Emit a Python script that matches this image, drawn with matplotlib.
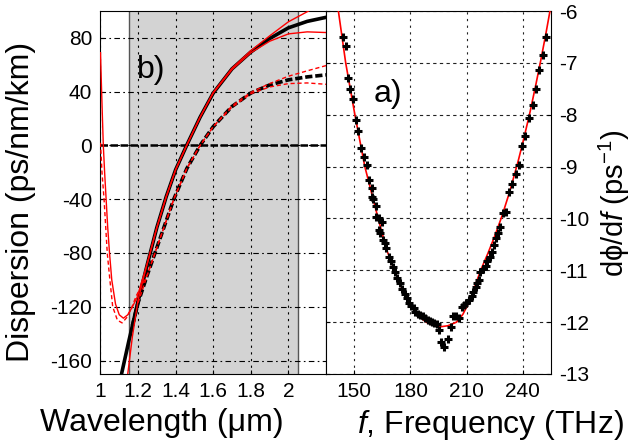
# dispersion (left) and group delay derivative (right) panels
import matplotlib
matplotlib.use("Agg")
import matplotlib.pyplot as plt

plt.rcParams['font.family'] = ['Liberation Sans', 'DejaVu Sans']
plt.rcParams['mathtext.fontset'] = 'custom'
plt.rcParams['mathtext.rm'] = 'Liberation Sans'
plt.rcParams['mathtext.it'] = 'Liberation Sans:italic'
plt.rcParams['axes.unicode_minus'] = False

# ---- panel b) dispersion vs wavelength ----
wl_black = [1.112, 1.15, 1.20, 1.25, 1.30, 1.35, 1.40, 1.46, 1.53, 1.60,
            1.70, 1.80, 1.90, 2.00, 2.10, 2.20]
d_black = [-170, -146, -116, -88, -61, -38, -18, 0.5, 21, 39,
           57, 69.5, 79.5, 87.5, 92.3, 95.3]

wl_black_dash = [1.17, 1.20, 1.25, 1.29, 1.34, 1.39, 1.46, 1.53, 1.60,
                 1.70, 1.80, 1.90, 2.00, 2.10, 2.20]
d_black_dash = [-134, -117, -96, -80, -60, -40, -17, 0, 14,
                29, 39, 45, 48.8, 51, 52.5]

wl_red1 = [1.145, 1.17, 1.20, 1.25, 1.30, 1.35, 1.40, 1.46, 1.53, 1.60,
           1.70, 1.80, 1.90, 2.00, 2.107, 2.15]
d_red1 = [-170, -142, -115, -87, -61, -38, -18, 0.5, 21, 39.5,
          57.5, 70.5, 81.5, 92, 100, 104]

wl_red2 = [1.0, 1.005, 1.01, 1.015, 1.022, 1.03, 1.038, 1.048, 1.06, 1.08,
           1.10, 1.122, 1.145, 1.17, 1.195, 1.22, 1.25, 1.30, 1.35, 1.40,
           1.46, 1.53, 1.60, 1.70, 1.80, 1.90, 2.00, 2.10, 2.20]
d_red2 = [69, 45, 22, 0, -20, -40, -60, -80, -100, -118,
          -126, -128.5, -126, -120, -113, -101, -87.5, -61, -38, -18,
          0.5, 21, 39, 56.5, 69, 77.5, 83, 84.5, 84]

wl_red_dash1 = [1.0, 1.008, 1.019, 1.036, 1.05, 1.065, 1.09, 1.115, 1.14,
                1.165, 1.19, 1.22, 1.25, 1.29, 1.34, 1.39, 1.46, 1.53,
                1.60, 1.70, 1.80, 1.90, 2.00, 2.10, 2.20]
d_red_dash1 = [2, -20, -40, -80, -100, -120, -130, -132, -128,
               -121, -112, -104, -96, -80, -60, -40, -17, 0,
               14, 28.5, 38.5, 43.5, 46, 46.5, 45.5]

wl_red_dash2 = [1.20, 1.25, 1.29, 1.34, 1.39, 1.46, 1.53, 1.60, 1.70,
                1.80, 1.90, 2.00, 2.10, 2.20]
d_red_dash2 = [-117, -96, -80, -60, -40, -17, 0, 14, 29.5,
               39.5, 46, 51.5, 55.5, 59.4]

window = [1.15, 2.05]

# ---- panel a) measured dphi/df and fit ----
freq = [143.8, 145.5, 146.6, 147.8, 149.2, 151.0, 152.2, 153.6, 155.2, 156.6,
        158.0, 159.3, 159.3, 160.2, 161.5, 161.9, 163.3, 164.6, 163.3, 164.0,
        165.5, 166.3, 167.2, 168.6, 169.9, 170.8, 171.6, 172.9, 174.3, 175.7,
        176.9, 178.2, 179.2, 180.4, 181.7, 182.7, 184.0, 185.2, 186.6, 188.0,
        189.3, 190.5, 191.6, 192.8, 194.0, 195.2, 196.5, 198.1, 200.2, 201.5,
        202.8, 204.3, 206.0, 207.3, 208.5, 209.9, 211.3, 212.6, 213.4, 214.9,
        215.5, 216.6, 217.3, 218.7, 220.1, 220.8, 222.3, 223.5, 224.4, 225.8,
        226.7, 227.9, 229.5, 231.1, 232.8, 234.4, 236.4, 238.0, 239.4, 241.2,
        243.4, 245.4, 247.0, 248.7, 250.8, 252.5]
dphi = [-6.51, -6.68, -7.30, -7.51, -7.70, -8.11, -8.31, -8.64, -8.81, -8.97,
        -9.26, -9.42, -9.58, -9.63, -9.76, -9.97, -10.00, -10.06, -10.22, -10.29,
        -10.42, -10.48, -10.58, -10.74, -10.83, -10.93, -11.03, -11.14, -11.25, -11.37,
        -11.46, -11.54, -11.64, -11.69, -11.73, -11.80, -11.84, -11.86, -11.89, -11.93,
        -11.95, -11.97, -11.99, -12.01, -12.04, -12.16, -12.38, -12.48, -12.33, -12.10,
        -11.88, -11.89, -11.93, -11.71, -11.67, -11.64, -11.57, -11.50, -11.41, -11.33,
        -11.25, -11.19, -11.03, -10.98, -10.92, -10.83, -10.74, -10.64, -10.51, -10.38,
        -10.29, -10.17, -9.89, -9.87, -9.49, -9.33, -9.14, -8.97, -8.60, -8.41,
        -8.07, -7.82, -7.50, -7.14, -6.84, -6.50]

fit_f = [141.6, 145.5, 150.4, 155.7, 158.9, 162.8, 167.5, 171.5, 175.5, 180.0,
         184.0, 188.4, 192.0, 196.0, 200.0, 204.6, 208.0, 211.5, 215.0, 217.5,
         221.5, 225.0, 228.8, 233.0, 237.3, 240.5, 243.8, 246.8, 249.6, 252.2,
         254.6]
fit_v = [-6.0, -7.0, -8.0, -9.0, -9.45, -10.0, -10.62, -11.0, -11.35, -11.67,
         -11.87, -12.0, -12.06, -12.09, -12.07, -12.0, -11.85, -11.6, -11.25, -11.0,
         -10.66, -10.34, -9.96, -9.48, -8.92, -8.46, -7.95, -7.44, -6.94, -6.45,
         -5.97]

fig = plt.figure(figsize=(6.34, 4.41), dpi=100)
ax1 = fig.add_axes([0.1585, 0.152, 0.3557, 0.823])
ax2 = fig.add_axes([0.5142, 0.152, 0.3549, 0.823])

# left panel
ax1.axvspan(window[0], window[1], facecolor='#d3d3d3', edgecolor='none', zorder=0)
for w in window:
    ax1.axvline(w, color='#555555', lw=1.0, zorder=0.5)

ax1.set_xlim(1.0, 2.2)
ax1.set_ylim(-170, 100)
ax1.set_xticks([1, 1.2, 1.4, 1.6, 1.8, 2])
ax1.set_xticklabels(['1', '1.2', '1.4', '1.6', '1.8', '2'])
ax1.set_yticks([-160, -120, -80, -40, 0, 40, 80])
ax1.xaxis.grid(True, color='k', lw=0.8, ls=(0, (2, 4)))
ax1.yaxis.grid(True, color='k', lw=0.8, ls=(0, (5, 3, 1.5, 3)))
ax1.set_axisbelow(False)
for gl in ax1.get_xgridlines() + ax1.get_ygridlines():
    gl.set_zorder(1)

ax1.axhline(0, color='k', lw=1.8, ls=(0, (3, 1)), zorder=2)
ax1.plot(wl_black, d_black, color='k', lw=2.6, zorder=3)
ax1.plot(wl_black_dash, d_black_dash, color='k', lw=2.6, ls=(0, (2, 0.8)), zorder=3)
ax1.plot(wl_red1, d_red1, color='red', lw=1.0, zorder=4)
ax1.plot(wl_red2, d_red2, color='red', lw=1.0, zorder=4)
ax1.plot(wl_red_dash1, d_red_dash1, color='red', lw=1.0, ls=(0, (3, 2)), zorder=4)
ax1.plot(wl_red_dash2, d_red_dash2, color='red', lw=1.0, ls=(0, (3, 2)), zorder=4)

ax1.text(0.162, 0.815, 'b)', transform=ax1.transAxes, fontsize=23)
ax1.tick_params(direction='in', labelsize=15, length=3, pad=6)
ax1.set_ylabel('Dispersion (ps/nm/km)', fontsize=23)
ax1.yaxis.set_label_coords(-0.285, 0.475)
ax1.set_xlabel('Wavelength (\u03bcm)', fontsize=23)
ax1.xaxis.set_label_coords(0.27, -0.094)

# right panel
ax2.set_xlim(135, 255)
ax2.set_ylim(-13, -6)
ax2.set_xticks([150, 180, 210, 240])
ax2.set_yticks([-13, -12, -11, -10, -9, -8, -7, -6])
ax2.xaxis.grid(True, color='#222222', lw=0.8, ls=(0, (2, 4)))
ax2.yaxis.grid(True, color='#222222', lw=0.8, ls=(0, (3, 3)))
ax2.plot(fit_f, fit_v, color='red', lw=1.2, zorder=3)
ax2.plot(freq, dphi, ls='none', marker='+', ms=6, mew=2.2, color='k', zorder=4)
ax2.text(0.21, 0.75, 'a)', transform=ax2.transAxes, fontsize=23)
ax2.yaxis.tick_right()
ax2.yaxis.set_label_position('right')
ax2.tick_params(direction='in', labelsize=15, length=3, pad=6, left=True, right=True)
ax2.set_ylabel('d\u03d5/d$f$ (ps$^{-1}$)', fontsize=21)
ax2.yaxis.set_label_coords(1.205, 0.47)
ax2.set_xlabel('$f$, Frequency (THz)', fontsize=23)
ax2.xaxis.set_label_coords(0.729, -0.094)

fig.savefig('out.png', dpi=100)
